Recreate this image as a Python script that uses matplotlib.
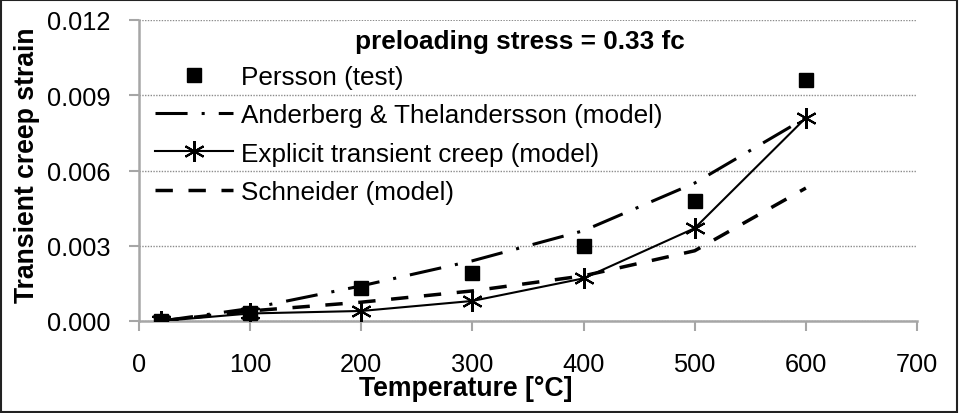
import matplotlib
matplotlib.use("Agg")
import matplotlib.pyplot as plt
from matplotlib.patches import Rectangle

plt.rcParams['font.family'] = ['Liberation Sans', 'DejaVu Sans']

temps = [20, 100, 200, 300, 400, 500, 600]
persson = [0.0, 0.0003, 0.0013, 0.0019, 0.0030, 0.0048, 0.0096]
anderberg = [0.0, 0.0005, 0.0014, 0.0024, 0.0036, 0.0055, 0.0081]
explicit = [0.0, 0.0003, 0.0004, 0.0008, 0.0017, 0.0037, 0.0081]
schneider = [0.0, 0.0004, 0.00075, 0.0012, 0.0018, 0.0028, 0.0053]

xticks = [0, 100, 200, 300, 400, 500, 600, 700]
yticks = [0.0, 0.003, 0.006, 0.009, 0.012]
ytick_labels = ["0.000", "0.003", "0.006", "0.009", "0.012"]

FS_TICK = 18.3
FS_LEG = 18.8
FS_LAB = 19.2
gray = "#a6a6a6"

fig = plt.figure(figsize=(9.59, 4.14), dpi=100)
ax = fig.add_axes([139/959, 1-322/414, (917-139)/959, (322-21)/414])

ax.plot(temps, persson, linestyle='none', marker='s', markersize=9.5,
        color='black', label='Persson (test)', zorder=5)
ax.plot(temps, anderberg, color='black', linewidth=2.2,
        dashes=(10.5, 4.6, 1, 4.6), label='Anderberg & Thelandersson (model)', zorder=3)
ax.plot(temps, explicit, color='black', linewidth=1.5, marker=(6, 2, 0),
        markersize=15, markeredgewidth=1.5, label='Explicit transient creep (model)', zorder=4)
ax.plot(temps, schneider, color='black', linewidth=2.5,
        dashes=(5, 4.5), label='Schneider (model)', zorder=3)

ax.set_xlim(0, 700)
ax.set_ylim(0, 0.012)
ax.set_xticks(xticks)
ax.set_xticklabels([str(t) for t in xticks], fontsize=FS_TICK)
ax.set_yticks(yticks)
ax.set_yticklabels(ytick_labels, fontsize=FS_TICK)
ax.tick_params(axis='both', direction='out', length=7, width=1.5, color=gray)
ax.tick_params(axis='x', pad=15)
ax.tick_params(axis='y', pad=13.5)
ax.grid(axis='y', linestyle=(0, (1, 1)), color='#8c8c8c', linewidth=1.0)
ax.set_axisbelow(True)
for s in ['top', 'right']:
    ax.spines[s].set_visible(False)
for s in ['left', 'bottom']:
    ax.spines[s].set_color(gray)
    ax.spines[s].set_linewidth(1.8)

ax.set_xlabel('Temperature [°C]', fontsize=FS_LAB, fontweight='bold')
ax.xaxis.set_label_coords((466-139)/778, -0.18)
ax.set_ylabel('Transient creep strain', fontsize=FS_LAB, fontweight='bold')
ax.yaxis.set_label_coords((40-139)/778, (322-165)/301)

ax.text(0.49, 0.93, 'preloading stress = 0.33 fc', transform=ax.transAxes,
        fontsize=FS_LEG, fontweight='bold', ha='center', va='center',
        bbox=dict(facecolor='white', edgecolor='none', pad=6), zorder=6)

leg = ax.legend(loc='upper left', bbox_to_anchor=(0.02, 0.851), frameon=False,
                fontsize=FS_LEG, handlelength=3.0, handletextpad=0.3,
                labelspacing=0.55, borderaxespad=0, borderpad=0)

fig.patches.append(Rectangle((0.001, 0.002), 0.997, 0.995, transform=fig.transFigure,
                             fill=False, edgecolor='#222222', linewidth=1.5))

fig.savefig('out.png', dpi=100)
